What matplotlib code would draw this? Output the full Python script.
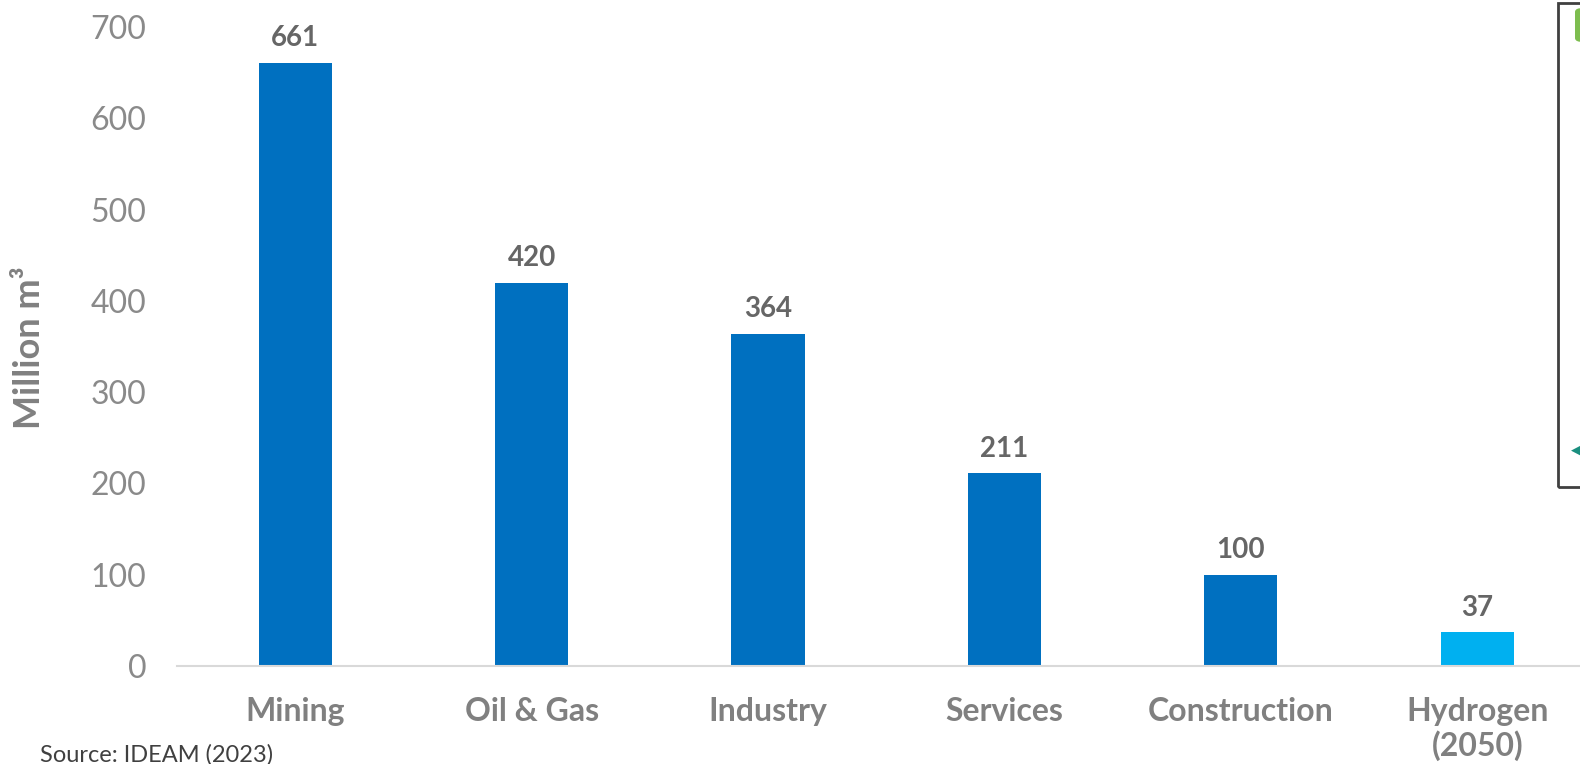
import matplotlib.pyplot as plt
from matplotlib.patches import Rectangle, FancyBboxPatch

# data
sectors = ['Mining', 'Oil & Gas', 'Industry', 'Services', 'Construction', 'Hydrogen\n(2050)']
volumes = [661, 420, 364, 211, 100, 37]
bar_colors = ['#0070C0'] * 5 + ['#00B0F0']
yticks = [0, 100, 200, 300, 400, 500, 600, 700]

FONT = ['Lato', 'DejaVu Sans']
plt.rcParams['font.family'] = FONT

fig = plt.figure(figsize=(15.8, 7.64), dpi=100)
W, H = 1580, 764
left, right, bottom, top = 177, 1580, 666, 27
ax = fig.add_axes([left / W, 1 - bottom / H, (right - left) / W, (bottom - top) / H])

x = list(range(len(sectors)))
bars = ax.bar(x, volumes, width=0.31, color=bar_colors, zorder=2)

for xi, v in zip(x, volumes):
    ax.annotate(str(v), (xi, v), xytext=(0, 12), textcoords='offset points',
                ha='center', va='baseline', fontsize=20, fontweight='bold',
                color='#666666')

ax.set_xlim(-0.5, (right - left) / 236.4 - 0.5)
ax.set_ylim(0, 700)
ax.set_yticks(yticks)
ax.set_yticklabels([str(t) for t in yticks], fontsize=23, color='#8a8a8a')
ax.set_xticks(x)
ax.set_xticklabels(sectors, fontsize=23, fontweight='bold', color='#808080', linespacing=1.2)
ax.tick_params(axis='both', length=0)
ax.tick_params(axis='y', pad=22)
ax.tick_params(axis='x', pad=22)

for s in ['top', 'right', 'left']:
    ax.spines[s].set_visible(False)
ax.spines['bottom'].set_color('#d9d9d9')
ax.spines['bottom'].set_linewidth(1.5)

fig.text(30 / W, 1 - 348 / H, 'Million m³', rotation=90, ha='center', va='center',
         fontsize=26, fontweight='bold', color='#808080')
fig.text(40 / W, 1 - 744 / H, 'Source: IDEAM (2023)', ha='left', va='top',
         fontsize=17, color='#404040')

# partial box cut off at the right edge
fig.patches.append(Rectangle((1558 / W, 1 - 487 / H), 40 / W, 484 / H,
                             transform=fig.transFigure, fill=False,
                             edgecolor='#404040', linewidth=2))
fig.patches.append(FancyBboxPatch((1575 / W, 1 - 42 / H), 20 / W, 34 / H,
                                  boxstyle='round,pad=0,rounding_size=0.005',
                                  transform=fig.transFigure, facecolor='#7DBD4F',
                                  edgecolor='none'))
fig.text(1571 / W, 1 - 450 / H, '◀', ha='left', va='center', fontsize=9,
         color='#1a8f7f', family=['DejaVu Sans'])

fig.savefig('out.png', dpi=100)
